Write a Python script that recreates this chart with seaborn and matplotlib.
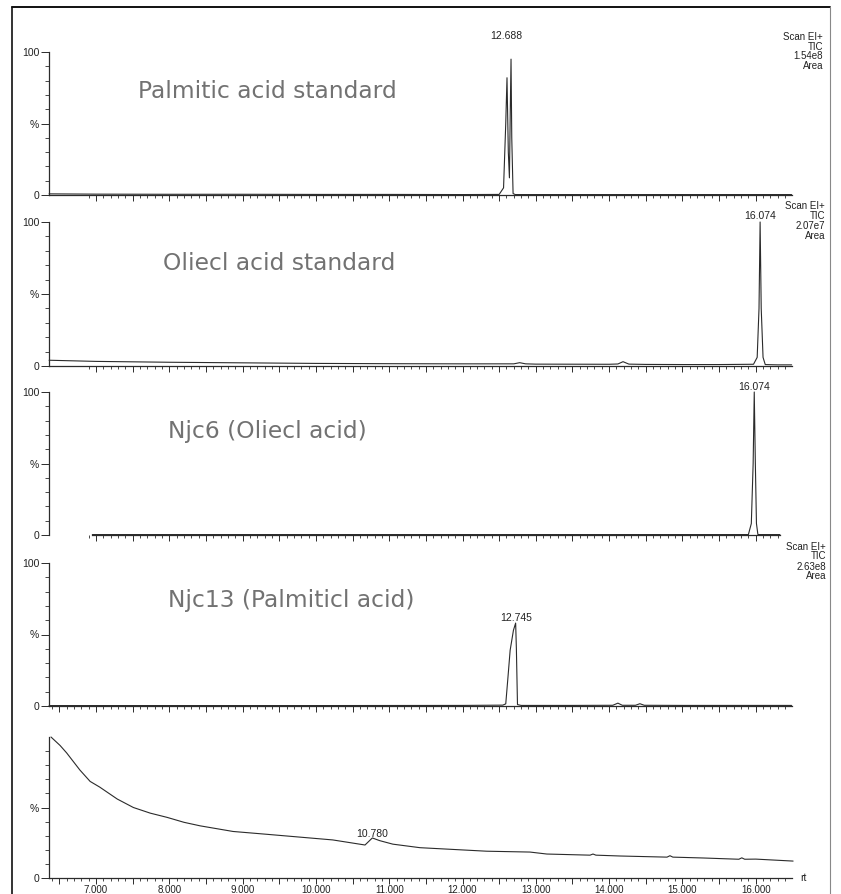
import numpy as np
import matplotlib
matplotlib.use("Agg")
import matplotlib.pyplot as plt
import seaborn as sns
from matplotlib.ticker import FixedLocator, FuncFormatter
from matplotlib.lines import Line2D

# ---------------- data ----------------
p1_rt  = [6.36, 7.0, 8.0, 9.0, 10.0, 11.0, 12.0, 12.50, 12.56, 12.59, 12.607,
          12.625, 12.640, 12.652, 12.662, 12.672, 12.690, 12.72, 13.0, 14.0, 15.0, 16.0, 16.49]
p1_pct = [0.8, 0.6, 0.5, 0.5, 0.4, 0.4, 0.3, 0.4, 5, 50, 82,
          30, 12, 60, 95, 40, 1, 0.3, 0.3, 0.3, 0.3, 0.3, 0.3]

p2_rt  = [6.36, 7.0, 8.0, 9.0, 10.0, 11.0, 12.0, 12.70, 12.78, 12.86, 13.0, 14.0,
          14.12, 14.19, 14.27, 14.5, 15.0, 15.5, 15.97, 16.02, 16.045, 16.06,
          16.075, 16.10, 16.13, 16.30, 16.49]
p2_pct = [4.0, 3.2, 2.6, 2.2, 1.8, 1.6, 1.5, 1.5, 2.3, 1.5, 1.3, 1.2,
          1.4, 3.0, 1.3, 1.1, 1.0, 1.0, 1.2, 6, 40, 100,
          40, 6, 1.0, 0.8, 0.8]

p3_rt  = [6.95, 8.0, 10.0, 12.0, 14.0, 15.0, 15.90, 15.94, 15.965, 15.98,
          15.995, 16.01, 16.03, 16.20, 16.33]
p3_pct = [0.3, 0.3, 0.3, 0.3, 0.3, 0.3, 0.3, 8, 50, 100,
          50, 8, 0.3, 0.3, 0.3]

p4_rt  = [6.36, 8.0, 10.0, 12.0, 12.55, 12.59, 12.62, 12.65, 12.695, 12.725,
          12.735, 12.75, 12.80, 13.5, 14.05, 14.12, 14.18, 14.36, 14.42, 14.48,
          15.0, 16.0, 16.49]
p4_pct = [0.3, 0.3, 0.3, 0.4, 0.6, 1.5, 20, 39, 53, 58,
          40, 1, 0.4, 0.4, 0.5, 2.0, 0.5, 0.5, 1.6, 0.5,
          0.4, 0.4, 0.4]

p5_rt  = [6.386, 6.51, 6.60, 6.78, 6.92, 7.05, 7.29, 7.51, 7.74, 7.97, 8.20, 8.42,
          8.87, 9.33, 9.78, 10.23, 10.67, 10.77, 10.87, 11.05, 11.42, 12.33, 12.92,
          13.15, 13.74, 13.78, 13.82, 14.15, 14.79, 14.83, 14.87, 15.28, 15.77,
          15.81, 15.85, 16.0, 16.51]
p5_pct = [100, 94, 88.7, 76.6, 68.5, 64.5, 56, 50, 46, 43, 39.5, 37,
          33, 31, 29, 27, 23.4, 28.4, 26.5, 24, 21.5, 19, 18.4,
          17, 16.2, 17.0, 16.2, 15.6, 14.8, 15.8, 14.8, 14.2, 13.3,
          14.3, 13.3, 13.4, 12.0]

traces = [(p1_rt, p1_pct), (p2_rt, p2_pct), (p3_rt, p3_pct), (p4_rt, p4_pct), (p5_rt, p5_pct)]

panel_titles = ["Palmitic acid standard", "Oliecl acid standard", "Njc6 (Oliecl acid)",
                "Njc13 (Palmiticl acid)", None]
peak_labels = [("12.688", 12.60, 39), ("16.074", 16.06, 219), ("16.074", 15.98, 390),
               ("12.745", 12.725, 621), ("10.780", 10.77, 837)]
scan_info = [["Scan EI+", "TIC", "1.54e8", "Area"],
             ["Scan EI+", "TIC", "2.07e7", "Area"],
             None,
             ["Scan EI+", "TIC", "2.63e8", "Area"],
             None]
x_labels = [7, 8, 9, 10, 11, 12, 13, 14, 15, 16]

# ---------------- layout ----------------
W, H = 841, 894
sns.set_theme(style="white")
plt.rcParams['font.family'] = ['DejaVu Sans']

fig = plt.figure(figsize=(W / 100, H / 100), dpi=100)
fig.patch.set_facecolor("white")

def fx(x):
    return x / W

def fy(y):
    return 1 - y / H

panel_px = [(52, 195), (222, 366), (392, 535), (563, 706), (737, 878)]
XL, XR = 49, 792
T0, T1 = 6.359, 16.495
px_per_min = (XR - XL) / (T1 - T0)

def t2px(t):
    return XL + (t - T0) * px_per_min

ink = "#2b2b2b"
small_font = ['Liberation Sans', 'DejaVu Sans']

for i, ((y100, y0), (rt, pct)) in enumerate(zip(panel_px, traces)):
    ax = fig.add_axes([fx(XL), fy(y0), fx(XR) - fx(XL), (y0 - y100) / H])
    ax.set_facecolor("none")
    sns.lineplot(x=rt, y=pct, ax=ax, color=ink, linewidth=0.8,
                 estimator=None, sort=False, clip_on=False)
    ax.set_xlim(T0, T1)
    ax.set_ylim(0, 100)
    for s in ["top", "right"]:
        ax.spines[s].set_visible(False)
    for s in ["left", "bottom"]:
        ax.spines[s].set_color(ink)
        ax.spines[s].set_linewidth(0.9)
    if i == 2:
        ax.spines["bottom"].set_bounds(6.95, 16.33)

    # x ticks
    start = 6.9 if i < 3 else 6.4
    end = 16.3 if i == 2 else 16.45
    major = [v for v in np.arange(6.5, 16.51, 0.5) if start - 1e-6 <= v <= end + 1e-6]
    minor = [v for v in np.arange(start, end + 1e-6, 0.1)]
    ax.xaxis.set_major_locator(FixedLocator(major))
    ax.xaxis.set_minor_locator(FixedLocator(minor))
    ax.xaxis.set_major_formatter(FuncFormatter(
        lambda v, p: ("%.3f" % v) if abs(v - round(v)) < 1e-6 and round(v) in x_labels else ""))
    ax.tick_params(axis="x", which="major", bottom=True, length=4.5, width=0.7,
                   color=ink, direction="out", pad=0.5, labelsize=7,
                   labelbottom=(i == 4), labelcolor="#222")
    ax.tick_params(axis="x", which="minor", bottom=True, length=2.5, width=0.6,
                   color=ink, direction="out")

    # y ticks
    ax.yaxis.set_major_locator(FixedLocator([0, 50, 100] if i < 4 else [0, 50]))
    ax.yaxis.set_minor_locator(FixedLocator(list(range(10, 100, 10))))
    ylabels = ["0", "%", "100"] if i < 4 else ["0", "%"]
    ax.set_yticklabels(ylabels, fontsize=7.5, color="#222", family=small_font)
    ax.tick_params(axis="y", which="major", left=True, length=6, width=0.7,
                   color=ink, direction="out", pad=1)
    ax.tick_params(axis="y", which="minor", left=True, length=3, width=0.6,
                   color=ink, direction="out")
    for lab in ax.get_xticklabels():
        lab.set_family(small_font)
    ax.set_xlabel("")
    ax.set_ylabel("")
    ax.grid(False)

# panel titles
title_pos = [(138, 98), (163, 270), (168, 438), (168, 607)]
for t, (x, y) in zip(panel_titles, title_pos):
    fig.text(fx(x), fy(y), t, fontsize=16.8, color="#727272", ha="left", va="baseline",
             family=['DejaVu Sans'])

# peak labels
for lab, t, y in peak_labels:
    fig.text(fx(t2px(t)), fy(y), lab, fontsize=7.5, color="#222", ha="center",
             va="baseline", family=small_font)

# scan info blocks
scan_pos = [(823, [40, 50, 59, 69]), (825, [209, 219, 229, 239]), None,
            (826, [550, 559, 570, 579])]
for info, pos in zip(scan_info, scan_pos + [None]):
    if info is None or pos is None:
        continue
    xr, ys = pos
    for s, y in zip(info, ys):
        fig.text(fx(xr), fy(y), s, fontsize=7, color="#222", ha="right",
                 va="baseline", family=small_font)

fig.text(fx(800), fy(881), "rt", fontsize=7.5, color="#222", ha="left", va="baseline",
         family=small_font)

# outer frame of the scanned page
fig.add_artist(Line2D([fx(12), fx(12)], [0, fy(7)], transform=fig.transFigure,
                      color="#111", lw=1.2))
fig.add_artist(Line2D([fx(12), fx(830)], [fy(7), fy(7)], transform=fig.transFigure,
                      color="#111", lw=1.4))
fig.add_artist(Line2D([fx(830), fx(830)], [fy(7), 0], transform=fig.transFigure,
                      color="#888", lw=0.8))

fig.savefig("out.png", dpi=100, facecolor="white")
